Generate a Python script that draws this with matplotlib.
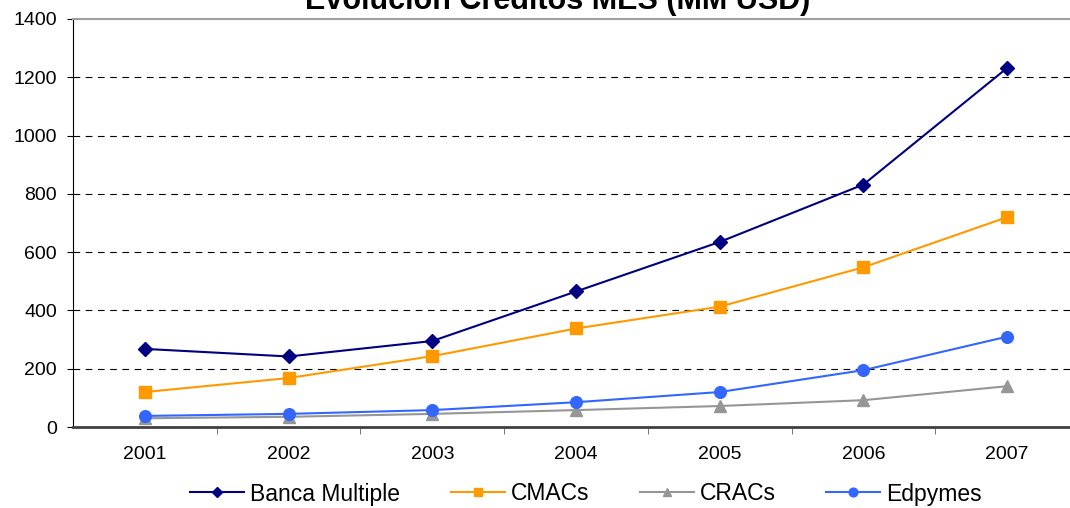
import numpy as np
import matplotlib.pyplot as plt

plt.rcParams['font.family'] = ['Liberation Sans', 'DejaVu Sans']

# Data (MM USD)
years = ['2001', '2002', '2003', '2004', '2005', '2006', '2007']
banca = [268, 242, 295, 465, 635, 832, 1232]
cmacs = [120, 168, 243, 338, 413, 548, 720]
cracs = [30, 35, 45, 58, 72, 92, 140]
edpymes = [38, 45, 58, 85, 120, 195, 310]

fig = plt.figure(figsize=(10.7, 5.08), dpi=100)
# plot area runs past the right edge of the picture, as in the original
ax = fig.add_axes([73 / 1070, 81 / 508, 1006 / 1070, 408 / 508])

x = np.arange(len(years))
ax.plot(x, banca, color='#000080', marker='D', markersize=7, lw=1.5, label='Banca Multiple')
ax.plot(x, cmacs, color='#FF9900', marker='s', markersize=8.4, lw=1.5, label='CMACs')
ax.plot(x, cracs, color='#969696', marker='^', markersize=8.5, lw=1.5, label='CRACs')
ax.plot(x, edpymes, color='#3366FF', marker='o', markersize=8.4, lw=1.5, label='Edpymes')

ax.set_xlim(-0.5, len(years) - 0.5)
ax.set_ylim(0, 1400)
ax.set_yticks(range(0, 1401, 200))
ax.set_xticks(x)
ax.set_xticklabels(years)
ax.tick_params(axis='x', length=0, labelsize=14, pad=14)
ax.set_xticks(np.arange(0.5, len(years) - 1, 1), minor=True)
ax.tick_params(axis='x', which='minor', length=5, direction='out', color='#606060')
ax.tick_params(axis='y', length=4.5, direction='out', labelsize=14, pad=7)

for yv in range(200, 1400, 200):
    ax.axhline(yv, color='black', lw=0.8, ls=(0, (6, 5)), zorder=0)

ax.spines['right'].set_visible(False)
ax.spines['top'].set_color('#a0a0a0')
ax.spines['top'].set_linewidth(1.5)
ax.spines['left'].set_color('black')
ax.spines['bottom'].set_color('#404040')
ax.spines['bottom'].set_linewidth(2)

fig.text(558 / 1070, 1 - 9 / 508, 'Evolución Créditos MES (MM USD)', ha='center', va='baseline',
         fontsize=22, fontweight='bold')

fig.legend(*ax.get_legend_handles_labels(), loc='center', bbox_to_anchor=(586 / 1070, 1 - 494 / 508),
           ncol=4, frameon=False, fontsize=16.5, columnspacing=2.2, handlelength=2.36,
           handletextpad=0.26, markerscale=0.75, borderpad=0)

fig.savefig('out.png', dpi=100)
